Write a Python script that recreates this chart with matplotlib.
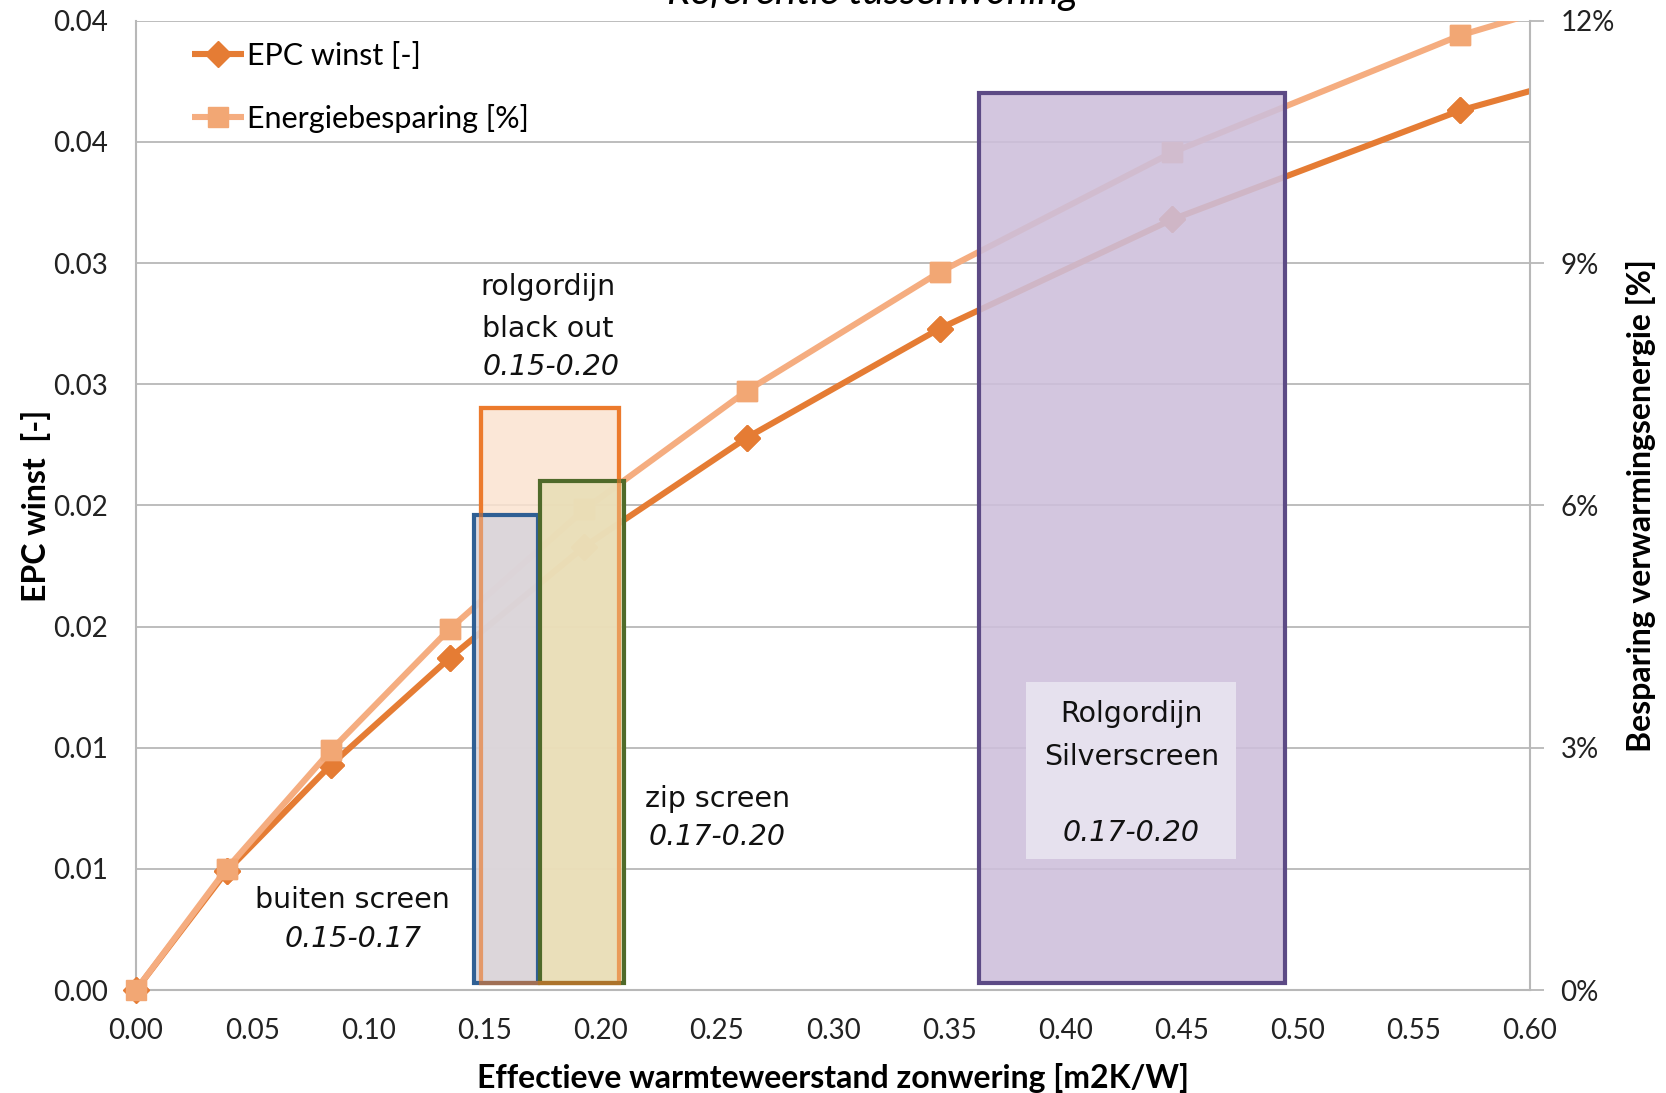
import matplotlib.pyplot as plt
from matplotlib.patches import Rectangle
from matplotlib.ticker import FixedLocator, FixedFormatter

# Effective thermal resistance of the shading [m2K/W]
r_eff = [0.0, 0.039, 0.084, 0.135, 0.193, 0.263, 0.346, 0.446, 0.570, 0.720]
# EPC gain [-]
epc_winst = [0.0, 0.0049, 0.0093, 0.0137, 0.0183, 0.0228, 0.0273, 0.0318, 0.0363, 0.0403]
# heating energy saving [%]
besparing = [0.0, 1.50, 2.97, 4.47, 5.95, 7.42, 8.89, 10.37, 11.82, 13.10]

# shading products: (x0, x1, top in EPC units)
products = ["rolgordijn black out", "buiten screen", "zip screen", "Rolgordijn Silverscreen"]
prod_x0 = [0.1486, 0.1454, 0.1738, 0.3630]
prod_x1 = [0.2080, 0.1729, 0.2099, 0.4944]
prod_top = [0.0240, 0.0196, 0.0210, 0.0370]

left_ticks = [0.0, 0.005, 0.01, 0.015, 0.02, 0.025, 0.03, 0.035, 0.04]
left_labels = ["0.00", "0.01", "0.01", "0.02", "0.02", "0.03", "0.03", "0.04", "0.04"]
right_ticks = [0, 3, 6, 9, 12]
x_ticks = [0.0, 0.05, 0.10, 0.15, 0.20, 0.25, 0.30, 0.35, 0.40, 0.45, 0.50, 0.55, 0.60]

C_EPC = "#e57c34"
C_ENE = "#f5ad80"
GRID = "#b8b8b8"
TICKFONT = "Lato"

fig = plt.figure(figsize=(16.66, 10.93), dpi=100)
ax = fig.add_axes([0.0816, 0.0942, 0.8368, 0.8868])
ax2 = ax.twinx()

ax.set_xlim(0, 0.6)
ax.set_ylim(0, 0.04)
ax2.set_ylim(0, 12)

ax.yaxis.set_major_locator(FixedLocator(left_ticks))
ax.yaxis.set_major_formatter(FixedFormatter(left_labels))
ax.set_xticks(x_ticks)
ax.set_xticklabels([f"{v:.2f}" for v in x_ticks])
ax2.set_yticks(right_ticks)
ax2.set_yticklabels([f"{v}%" for v in right_ticks])

ax.grid(axis="y", color=GRID, linewidth=1.3)
ax.set_axisbelow(True)
for a in (ax, ax2):
    for s in a.spines.values():
        s.set_color(GRID)
        s.set_linewidth(1.5)
    a.spines["top"].set_visible(False)
ax.spines["right"].set_visible(False)
ax2.spines["left"].set_visible(False)
ax2.spines["bottom"].set_visible(False)

ax.tick_params(axis="y", length=0, pad=20, labelsize=20)
ax.tick_params(axis="x", length=0, pad=20, labelsize=20)
ax2.tick_params(axis="y", length=10, width=1.3, color=GRID, pad=12, labelsize=20)
for lab in ax.get_xticklabels() + ax.get_yticklabels() + ax2.get_yticklabels():
    lab.set_fontfamily(TICKFONT)
    lab.set_color("#222222")

ax.set_xlabel("Effectieve warmteweerstand zonwering [m2K/W]", fontfamily=TICKFONT,
              fontweight="bold", fontsize=23, labelpad=14)
ax.set_ylabel("EPC winst  [-]", fontfamily=TICKFONT, fontweight="bold",
              fontsize=23, labelpad=2)
ax2.set_ylabel("Besparing verwarmingsenergie [%]", fontfamily=TICKFONT,
               fontweight="bold", fontsize=23, labelpad=8)

# both series: clipped lines, markers left unclipped so the origin point shows
inside = [i for i, v in enumerate(r_eff) if v <= 0.6]
l1, = ax.plot(r_eff, epc_winst, color=C_EPC, linewidth=4.4, marker="D",
              markersize=13, markeredgecolor=C_EPC, label="EPC winst [-]",
              zorder=3, solid_capstyle="butt")
ax.plot([r_eff[i] for i in inside], [epc_winst[i] for i in inside], linestyle="none",
        marker="D", markersize=13, color=C_EPC, clip_on=False, zorder=3)
l2, = ax2.plot(r_eff, besparing, color=C_ENE, linewidth=4.4, marker="s",
               markersize=15, markerfacecolor="#f2a774", markeredgecolor="#f2a774",
               label="Energiebesparing [%]", zorder=3, solid_capstyle="butt")
ax2.plot([r_eff[i] for i in inside], [besparing[i] for i in inside], linestyle="none",
         marker="s", markersize=15, color="#f2a774", clip_on=False, zorder=3)

# shading product ranges, drawn over the curves
tr = ax.transData
styles = {
    "rolgordijn black out": dict(fc="#fbe3d0", ec="#ec7a2c", alpha=0.85),
    "buiten screen": dict(fc="#d8d4db", ec="#2f5f94", alpha=0.88),
    "zip screen": dict(fc="#e8deb5", ec="#4f6a2a", alpha=0.85),
    "Rolgordijn Silverscreen": dict(fc="#cdbfdb", ec="#5c4a85", alpha=0.88),
}
z = {"rolgordijn black out": 4, "buiten screen": 5, "zip screen": 5,
     "Rolgordijn Silverscreen": 5}
for name, x0, x1, top in zip(products, prod_x0, prod_x1, prod_top):
    st = styles[name]
    ax2.add_patch(Rectangle((x0, 0.0003), x1 - x0, top - 0.0003, transform=tr,
                            facecolor=st["fc"], edgecolor="none", alpha=st["alpha"],
                            zorder=z[name]))
    ax2.add_patch(Rectangle((x0, 0.0003), x1 - x0, top - 0.0003, transform=tr,
                            facecolor="none", edgecolor=st["ec"], linewidth=3.0,
                            zorder=z[name] + 0.5))
# orange outline shows through the neighbouring boxes
ax2.add_patch(Rectangle((prod_x0[0], 0.0003), prod_x1[0] - prod_x0[0],
                        prod_top[0] - 0.0003, transform=tr, facecolor="none",
                        edgecolor="#ec7a2c", linewidth=3.0, alpha=0.6, zorder=6))

txt = dict(fontfamily="DejaVu Sans", fontsize=20.5, ha="center", va="center",
           color="#111111", zorder=8)
itx = dict(txt, style="italic")
ax2.text(0.1774, 0.0290, "rolgordijn", transform=tr, **txt)
ax2.text(0.1774, 0.0273, "black out", transform=tr, **txt)
ax2.text(0.1788, 0.0257, "0.15-0.20", transform=tr, **itx)
ax2.text(0.2502, 0.0079, "zip screen", transform=tr, **txt)
ax2.text(0.2502, 0.0063, "0.17-0.20", transform=tr, **itx)
ax2.text(0.0933, 0.0037, "buiten screen", transform=tr, **txt)
ax2.text(0.0933, 0.0021, "0.15-0.17", transform=tr, **itx)

# label box inside the Silverscreen range
ax2.add_patch(Rectangle((0.3832, 0.0054), 0.0901, 0.0073, transform=tr,
                        facecolor="#e6e1ee", edgecolor="none", zorder=7))
ax2.text(0.4285, 0.0114, "Rolgordijn", transform=tr, **txt)
ax2.text(0.4285, 0.0096, "Silverscreen", transform=tr, **txt)
ax2.text(0.4285, 0.0065, "0.17-0.20", transform=tr, **itx)

leg = ax2.legend([l1, l2], ["EPC winst [-]", "Energiebesparing [%]"],
                 loc="upper left", bbox_to_anchor=(0.025, 1.0), frameon=False,
                 prop={"family": TICKFONT, "size": 22}, handlelength=1.7,
                 handletextpad=0.1, labelspacing=1.1, borderaxespad=0.3)
leg.set_zorder(10)

fig.text(0.524, 0.996, "Referentie tussenwoning", fontfamily=TICKFONT,
         fontsize=29, style="italic", ha="center", va="baseline")

fig.savefig("out.png", dpi=100, facecolor="white")
